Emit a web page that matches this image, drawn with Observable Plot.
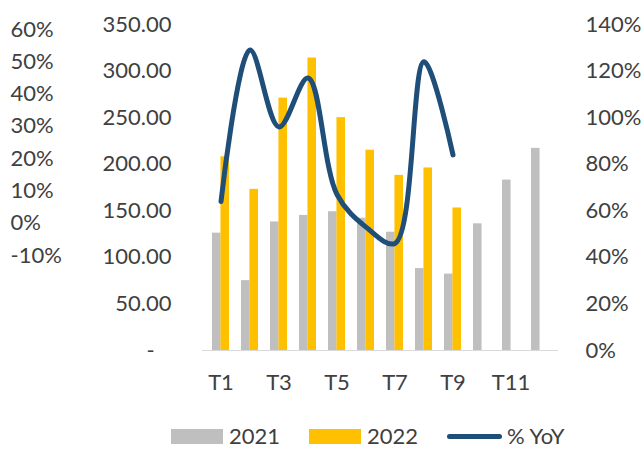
<!DOCTYPE html>
<html>
<head>
<meta charset="utf-8">
<script src="https://cdn.jsdelivr.net/npm/d3@7"></script>
<script src="https://cdn.jsdelivr.net/npm/@observablehq/plot@0.6"></script>
<style>
  body { margin: 0; background: #fff; font-family: Lato, "Open Sans", sans-serif; }
  #wrap { position: relative; width: 643px; height: 450px; overflow: hidden; }
  #outer { position: absolute; left: 0; top: 0; }
  #main { position: absolute; left: 0; top: 0; }
  #legend { position: absolute; left: 171px; top: 422px; display: flex; align-items: center; font-size: 22px; line-height: 26px; color: #404040; height: 28px; }
  .sw { display: inline-block; width: 52px; height: 15px; margin-right: 6px; }
  .ln { display: inline-block; width: 55px; height: 5px; border-radius: 3px; background: #1f4e79; margin-right: 5px; }
  .item { display: flex; align-items: center; margin-right: 29px; }
</style>
</head>
<body>
<div id="wrap">
  <div id="main"></div>
  <div id="outer"></div>
  <div id="legend"></div>
</div>
<script>
const categories = ["T1","T2","T3","T4","T5","T6","T7","T8","T9","T10","T11","T12"];
const values2021 = [126, 75, 138, 145, 149, 142, 127, 88, 82, 136, 183, 217];
const values2022 = [208, 173, 271, 314, 250, 215, 188, 196, 153, null, null, null];
const yoyPct = [64, 129, 96, 117, 67, 53, 46, 124, 84];
const leftTicks = [0, 50, 100, 150, 200, 250, 300, 350];
const rightTicks = [0, 20, 40, 60, 80, 100, 120, 140];
const outerTicks = [-0.1, 0, 0.1, 0.2, 0.3, 0.4, 0.5, 0.6];
const xTickLabels = ["T1","T3","T5","T7","T9","T11"];
const seriesNames = ["2021", "2022", "% YoY"];
const colors = {"2021": "#bfbfbf", "2022": "#ffc000", "% YoY": "#1f4e79"};

const ratio = 350 / 140; // right axis (percent) to left axis units

const bars2021 = categories.map((c, i) => ({cat: c, v: values2021[i]}));
const bars2022 = categories.map((c, i) => ({cat: c, v: values2022[i]})).filter(d => d.v != null);
const yoy = yoyPct.map((v, i) => ({cat: categories[i], v}));

const textColor = "#404040";
const FONT = "Lato, 'Open Sans', sans-serif";

const main = Plot.plot({
  width: 643,
  height: 422,
  marginTop: 24,
  marginBottom: 72,
  marginLeft: 202,
  marginRight: 85,
  style: {fontFamily: FONT, fontSize: "22px", color: textColor, background: "transparent"},
  x: {domain: categories, paddingInner: 0.43, paddingOuter: 0.215, axis: null, label: null},
  y: {domain: [0, 350], axis: null, label: null},
  marks: [
    Plot.barY(bars2021, {x: "cat", y: "v", fill: colors["2021"], insetRight: 8.45}),
    Plot.barY(bars2022, {x: "cat", y: "v", fill: colors["2022"], insetLeft: 8.45}),
    Plot.ruleY([0], {stroke: "#d9d9d9", strokeWidth: 1.2}),
    Plot.axisY({anchor: "left", label: null, ticks: leftTicks, tickSize: 0, tickPadding: 31,
      tickFormat: d => d === 0 ? "-\u00a0\u00a0\u00a0" : d3.format(".2f")(d), fill: textColor}),
    Plot.axisY({anchor: "right", label: null, ticks: rightTicks.map(t => t * ratio), tickSize: 0, tickPadding: 27,
      tickFormat: d => Math.round(d / ratio) + "%", fill: textColor}),
    Plot.axisX({label: null, ticks: xTickLabels, tickSize: 0, tickPadding: 24, fill: textColor}),
    Plot.line(yoy, {x: "cat", y: d => d.v * ratio, stroke: colors["% YoY"], strokeWidth: 5,
      curve: "catmull-rom", strokeLinecap: "round", strokeLinejoin: "round"})
  ]
});
document.getElementById("main").appendChild(main);

const outer = Plot.plot({
  width: 100,
  height: 300,
  marginLeft: 10,
  marginRight: 0,
  marginTop: 0,
  marginBottom: 0,
  style: {fontFamily: FONT, fontSize: "22px", color: textColor, background: "transparent"},
  y: {domain: [-0.1, 0.6], range: [255, 29], axis: null, label: null},
  marks: [
    Plot.text(outerTicks, {y: d => d, text: d => Math.round(d * 100) + "%", frameAnchor: "left",
      textAnchor: "start", fill: textColor})
  ]
});
document.getElementById("outer").appendChild(outer);

const legend = document.getElementById("legend");
seriesNames.forEach(name => {
  const item = document.createElement("div");
  item.className = "item";
  const sw = document.createElement("span");
  if (name === "% YoY") { sw.className = "ln"; }
  else { sw.className = "sw"; sw.style.background = colors[name]; }
  item.appendChild(sw);
  const t = document.createElement("span");
  t.textContent = name;
  item.appendChild(t);
  legend.appendChild(item);
});
</script>
</body>
</html>
